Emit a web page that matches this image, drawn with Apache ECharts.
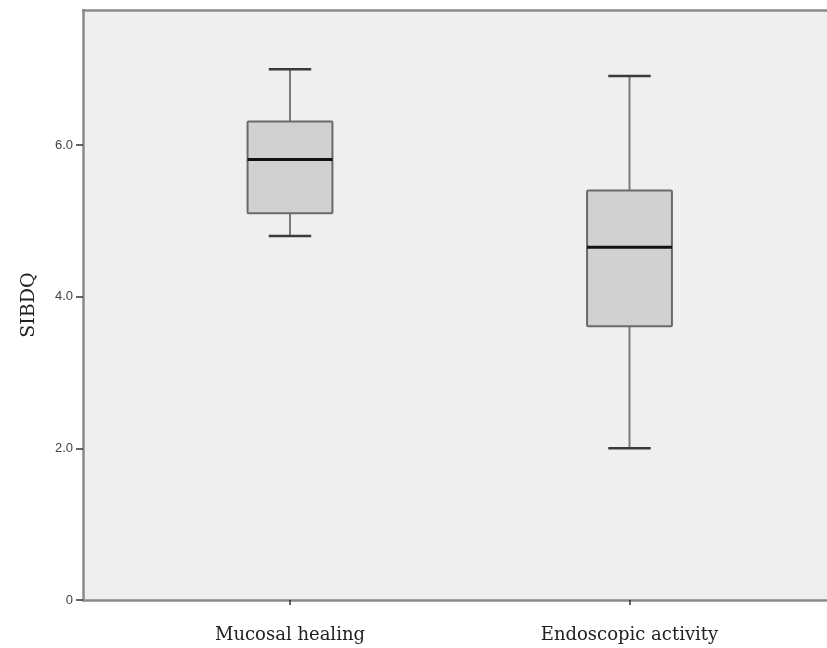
<!DOCTYPE html>
<html>
<head>
<meta charset="utf-8">
<script src="https://cdn.jsdelivr.net/npm/echarts@6/dist/echarts.min.js"></script>
<style>
html,body{margin:0;padding:0;background:#fff;}
#chart{width:827px;height:648px;}
</style>
</head>
<body>
<div id="chart"></div>
<script>
// Data
const categories = ['Mucosal healing', 'Endoscopic activity'];
const whiskerMin = [4.80, 2.00];
const q1 = [5.10, 3.61];
const median = [5.81, 4.65];
const q3 = [6.31, 5.40];
const whiskerMax = [7.00, 6.91];
const yTickLabels = ['0', '2.0', '4.0', '6.0'];
const yAxisName = 'SIBDQ';

const Y_MIN = 0, Y_MAX = 7.78;

const boxData = categories.map((c, i) => [i, whiskerMin[i], q1[i], median[i], q3[i], whiskerMax[i]]);

const chart = echarts.init(document.getElementById('chart'));

function renderBox(params, api) {
  const idx = api.value(0);
  const band = api.size([1, 0])[0];
  const bw = band * 0.25;
  const cw = band * 0.125;
  const pMin = api.coord([idx, api.value(1)]);
  const pQ1 = api.coord([idx, api.value(2)]);
  const pMed = api.coord([idx, api.value(3)]);
  const pQ3 = api.coord([idx, api.value(4)]);
  const pMax = api.coord([idx, api.value(5)]);
  const x = pMed[0];
  return {
    type: 'group',
    children: [
      { type: 'line', shape: { x1: x, y1: pMax[1], x2: x, y2: pQ3[1] }, style: { stroke: '#7a7a7a', lineWidth: 2 } },
      { type: 'line', shape: { x1: x, y1: pQ1[1], x2: x, y2: pMin[1] }, style: { stroke: '#7a7a7a', lineWidth: 2 } },
      { type: 'line', shape: { x1: x - cw / 2, y1: pMax[1], x2: x + cw / 2, y2: pMax[1] }, style: { stroke: '#3a3a3a', lineWidth: 2.5 } },
      { type: 'line', shape: { x1: x - cw / 2, y1: pMin[1], x2: x + cw / 2, y2: pMin[1] }, style: { stroke: '#3a3a3a', lineWidth: 2.5 } },
      { type: 'rect', shape: { x: x - bw / 2, y: pQ3[1], width: bw, height: pQ1[1] - pQ3[1], r: 1 },
        style: { fill: '#d1d1d1', stroke: '#6a6a6a', lineWidth: 2 } },
      { type: 'line', shape: { x1: x - bw / 2, y1: pMed[1], x2: x + bw / 2, y2: pMed[1] }, style: { stroke: '#111', lineWidth: 3 } }
    ]
  };
}

const option = {
  animation: false,
  backgroundColor: '#ffffff',
  grid: [
    { left: 83, right: 0, top: 10, bottom: 48, show: true, backgroundColor: '#efefef', borderWidth: 0 },
    { left: 120.25, right: 27.75, top: 10, bottom: 48 }
  ],
  xAxis: [
    { type: 'value', gridIndex: 0, min: 0, max: 1, position: 'bottom',
      axisLine: { show: true, onZero: false, lineStyle: { color: '#8a8a8a', width: 2.5 } },
      axisTick: { show: false }, axisLabel: { show: false }, splitLine: { show: false } },
    { type: 'value', gridIndex: 0, min: 0, max: 1, position: 'top',
      axisLine: { show: true, onZero: false, lineStyle: { color: '#8a8a8a', width: 2.5 } },
      axisTick: { show: false }, axisLabel: { show: false }, splitLine: { show: false } },
    { type: 'category', gridIndex: 1, data: categories, position: 'bottom',
      axisLine: { show: false },
      axisTick: { show: true, alignWithLabel: true, length: 5, lineStyle: { color: '#333', width: 1.5 } },
      axisLabel: { margin: 26, fontFamily: 'DejaVu Serif', fontSize: 18, color: '#222' } }
  ],
  yAxis: [
    { type: 'value', gridIndex: 0, min: Y_MIN, max: Y_MAX, interval: 2,
      name: yAxisName, nameLocation: 'middle', nameGap: 44, nameRotate: 90,
      nameTextStyle: { fontFamily: 'DejaVu Serif', fontSize: 19, color: '#222' },
      axisLine: { show: true, onZero: false, lineStyle: { color: '#8a8a8a', width: 2.5 } },
      axisTick: { show: true, length: 7, lineStyle: { color: '#333', width: 1.5 } },
      axisLabel: { showMaxLabel: false, margin: 10, fontFamily: 'Liberation Sans', fontSize: 13, color: '#444',
        formatter: function (v) { const i = Math.round(v / 2); return (Math.abs(v - i * 2) < 1e-9 && yTickLabels[i] !== undefined) ? yTickLabels[i] : ''; } },
      splitLine: { show: false } },
    { type: 'value', gridIndex: 1, min: Y_MIN, max: Y_MAX, show: false }
  ],
  series: [
    { type: 'custom', xAxisIndex: 2, yAxisIndex: 1, data: boxData, renderItem: renderBox,
      encode: { x: 0, y: [1, 2, 3, 4, 5] } }
  ]
};
chart.setOption(option);
</script>
</body>
</html>
